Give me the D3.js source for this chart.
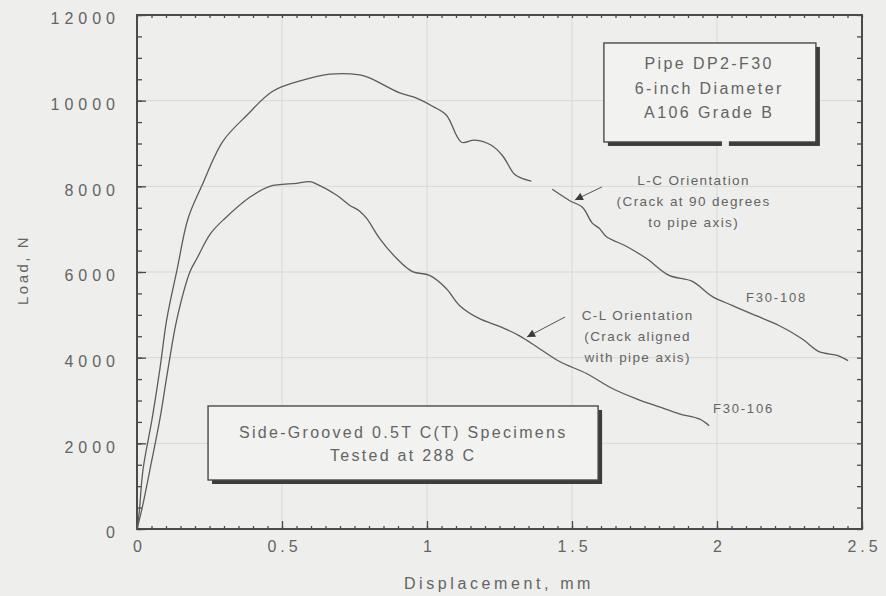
<!DOCTYPE html>
<html>
<head>
<meta charset="utf-8">
<script src="https://cdn.jsdelivr.net/npm/d3@7"></script>
<style>
  html, body { margin: 0; padding: 0; background: #eeeeec; }
  svg { display: block; font-family: "Liberation Sans", Arial, Helvetica, sans-serif; }
</style>
</head>
<body>
<svg id="chart" width="886" height="596"></svg>
<script>
// Axis ticks
const xTicks = [0, 0.5, 1, 1.5, 2, 2.5];
const xTickLabels = ["0", "0.5", "1", "1.5", "2", "2.5"];
const yTicks = [0, 2000, 4000, 6000, 8000, 10000, 12000];
const yTickLabels = ["0", "2000", "4000", "6000", "8000", "10000", "12000"];

// Specimen F30-108 (L-C orientation); null marks the break in the record
const disp108 = [0, 0.007, 0.021, 0.052, 0.079, 0.103, 0.138, 0.176, 0.224, 0.296, 0.379, 0.468, 0.572, 0.665, 0.768, 0.802, 0.906, 0.964, 1.019, 1.067, 1.119, 1.164, 1.222, 1.260, 1.302, 1.326, 1.360, null,
                 1.432, 1.491, 1.536, 1.570, 1.594, 1.618, 1.687, 1.756, 1.835, 1.915, 1.983, 2.052, 2.135, 2.214, 2.293, 2.352, 2.417, 2.452];
const load108 = [0, 350, 1400, 2570, 3740, 4910, 6050, 7250, 8020, 9050, 9660, 10220, 10480, 10620, 10600, 10530, 10180, 10060, 9870, 9660, 9030, 9080, 8960, 8720, 8280, 8190, 8120, null,
                 7930, 7670, 7510, 7140, 7020, 6830, 6600, 6320, 5920, 5780, 5430, 5220, 4980, 4750, 4440, 4140, 4050, 3930];

// Specimen F30-106 (C-L orientation)
const disp106 = [0, 0.017, 0.045, 0.079, 0.107, 0.138, 0.183, 0.207, 0.254, 0.303, 0.390, 0.458, 0.551, 0.596, 0.620, 0.689, 0.733, 0.768, 0.792, 0.837, 0.895, 0.950, 1.009, 1.067, 1.112, 1.181, 1.250, 1.319, 1.388, 1.457, 1.550, 1.639, 1.722, 1.801, 1.870, 1.939, 1.973];
const load106 = [0, 470, 1400, 2570, 3740, 4910, 6010, 6320, 6900, 7250, 7750, 8000, 8070, 8110, 8050, 7790, 7560, 7420, 7250, 6780, 6320, 6010, 5920, 5610, 5220, 4910, 4730, 4510, 4210, 3910, 3630, 3280, 3040, 2850, 2690, 2570, 2410];

const svg = d3.select("#chart");

const x = d3.scaleLinear().domain([0, 2.5]).range([137, 862]);
const y = d3.scaleLinear().domain([0, 12000]).range([529, 15]);

const axisColor = "#4a4a4a";
const textColor = "#646464";
const lineColor = "#5c5c5c";

// Grid lines
const grid = svg.append("g").attr("stroke", "#d8d8d6").attr("stroke-width", 1);
grid.selectAll("line.v").data(xTicks.slice(1, -1)).join("line")
  .attr("x1", d => x(d)).attr("x2", d => x(d))
  .attr("y1", y(12000)).attr("y2", y(0));
grid.selectAll("line.h").data(yTicks.slice(1, -1)).join("line")
  .attr("x1", x(0)).attr("x2", x(2.5))
  .attr("y1", d => y(d)).attr("y2", d => y(d));

// Minor ticks
const xMinor = d3.range(0, 2.5001, 0.05).map(v => +v.toFixed(2));
const yMinor = d3.range(0, 12001, 500);

function styleAxis(g) {
  g.select(".domain").remove();
  g.selectAll(".tick line").attr("stroke", axisColor).attr("stroke-width", 1.3);
}

svg.append("g").attr("transform", `translate(0,${y(0)})`)
  .call(d3.axisBottom(x).tickValues(xMinor).tickSizeInner(-3).tickSizeOuter(0).tickFormat(""))
  .call(styleAxis);
svg.append("g").attr("transform", `translate(0,${y(12000)})`)
  .call(d3.axisTop(x).tickValues(xMinor).tickSizeInner(-3).tickSizeOuter(0).tickFormat(""))
  .call(styleAxis);
svg.append("g").attr("transform", `translate(${x(0)},0)`)
  .call(d3.axisLeft(y).tickValues(yMinor).tickSizeInner(-5).tickSizeOuter(0).tickFormat(""))
  .call(styleAxis);
svg.append("g").attr("transform", `translate(${x(2.5)},0)`)
  .call(d3.axisRight(y).tickValues(yMinor).tickSizeInner(-5).tickSizeOuter(0).tickFormat(""))
  .call(styleAxis);

// Major ticks with labels
const xAxis = svg.append("g").attr("transform", `translate(0,${y(0)})`)
  .call(d3.axisBottom(x).tickValues(xTicks).tickSizeInner(-8).tickSizeOuter(0).tickPadding(12)
    .tickFormat((d, i) => xTickLabels[i]))
  .call(styleAxis);
xAxis.selectAll(".tick text")
  .attr("fill", textColor).attr("font-size", 16).attr("font-family", "Liberation Sans, Arial, sans-serif")
  .style("letter-spacing", "4px").attr("dx", 2);

const yAxis = svg.append("g").attr("transform", `translate(${x(0)},0)`)
  .call(d3.axisLeft(y).tickValues(yTicks).tickSizeInner(-9).tickSizeOuter(0).tickPadding(17)
    .tickFormat((d, i) => yTickLabels[i]))
  .call(styleAxis);
yAxis.selectAll(".tick text")
  .attr("fill", textColor).attr("font-size", 16).attr("font-family", "Liberation Sans, Arial, sans-serif")
  .style("letter-spacing", "5px").attr("dy", "0.55em");

// Plot frame
svg.append("rect")
  .attr("x", x(0)).attr("y", y(12000))
  .attr("width", x(2.5) - x(0)).attr("height", y(0) - y(12000))
  .attr("fill", "none").attr("stroke", axisColor).attr("stroke-width", 2);

// Axis titles
svg.append("text")
  .attr("x", 499).attr("y", 589)
  .attr("text-anchor", "middle").attr("fill", textColor)
  .attr("font-size", 16).style("letter-spacing", "3.6px")
  .text("Displacement,  mm");
svg.append("text")
  .attr("transform", "translate(28,270) rotate(-90)")
  .attr("text-anchor", "middle").attr("fill", textColor)
  .attr("font-size", 15).style("letter-spacing", "2.5px")
  .text("Load, N");

// Curves
const line = d3.line()
  .defined(d => d[0] !== null && d[1] !== null)
  .curve(d3.curveCatmullRom.alpha(0.5))
  .x(d => x(d[0])).y(d => y(d[1]));

svg.append("path")
  .datum(d3.zip(disp108, load108))
  .attr("d", line).attr("fill", "none")
  .attr("stroke", lineColor).attr("stroke-width", 1.3).attr("stroke-linejoin", "round");
svg.append("path")
  .datum(d3.zip(disp106, load106))
  .attr("d", line).attr("fill", "none")
  .attr("stroke", lineColor).attr("stroke-width", 1.3).attr("stroke-linejoin", "round");

// Framed note boxes with a drop shadow on the right and bottom
function noteBox(x0, x1, yTop, yBot, lines, cx, firstY, step, size, spacing) {
  const bx = x(x0), by = y(yTop), bw = x(x1) - x(x0), bh = y(yBot) - y(yTop);
  const g = svg.append("g");
  g.append("rect").attr("x", bx + 4).attr("y", by + 4).attr("width", bw).attr("height", bh)
    .attr("fill", "#3c3c3c");
  g.append("rect").attr("x", bx).attr("y", by).attr("width", bw).attr("height", bh)
    .attr("fill", "#f2f2f0").attr("stroke", "#4a4a4a").attr("stroke-width", 1.4);
  g.selectAll("text").data(lines).join("text")
    .attr("x", x(cx) + spacing / 2).attr("y", (d, i) => firstY + i * step)
    .attr("text-anchor", "middle").attr("fill", textColor)
    .attr("font-size", size).style("letter-spacing", spacing + "px")
    .text(d => d);
  return g;
}

const box1 = noteBox(1.61, 2.341, 11347, 9036,
  ["Pipe DP2-F30", "6-inch Diameter", "A106 Grade B"], 1.969, 69, 24.5, 16, 2.4);
// small break in the lower edge of the pipe box
box1.append("rect")
  .attr("x", x(2.017)).attr("y", y(9036) - 1).attr("width", x(2.041) - x(2.017)).attr("height", 7)
  .attr("fill", "#eeeeec");

noteBox(0.245, 1.590, 2872, 1144,
  ["Side-Grooved 0.5T C(T) Specimens", "Tested at 288 C"], 0.914, 438, 23, 16, 2.3);

// Arrowhead marker
svg.append("defs").append("marker")
  .attr("id", "arrow").attr("viewBox", "0 0 10 10")
  .attr("refX", 10).attr("refY", 5)
  .attr("markerWidth", 10).attr("markerHeight", 8)
  .attr("markerUnits", "userSpaceOnUse")
  .attr("orient", "auto")
  .append("path").attr("d", "M0,0 L10,5 L0,10 Z").attr("fill", "#3a3a3a");

function arrow(xFrom, yFrom, xTo, yTo) {
  svg.append("line")
    .attr("x1", x(xFrom)).attr("y1", y(yFrom))
    .attr("x2", x(xTo)).attr("y2", y(yTo))
    .attr("stroke", "#555").attr("stroke-width", 1)
    .attr("marker-end", "url(#arrow)");
}
arrow(1.603, 7985, 1.510, 7682);
arrow(1.476, 4950, 1.345, 4483);

// Orientation notes
function note(lines, cx, cyVal, step, size, spacing) {
  svg.append("g").selectAll("text").data(lines).join("text")
    .attr("x", x(cx) + spacing / 2)
    .attr("y", (d, i) => y(cyVal) + size * 0.36 + i * step)
    .attr("text-anchor", "middle").attr("fill", textColor)
    .attr("font-size", size).style("letter-spacing", spacing + "px")
    .text(d => d);
}
note(["L-C Orientation", "(Crack at 90 degrees", "to pipe axis)"], 1.917, 8149, 21, 13.5, 1.4);
note(["C-L Orientation", "(Crack aligned", "with pipe axis)"], 1.724, 4997, 21, 13.5, 1.4);

// Specimen labels
svg.append("text").attr("x", x(2.1)).attr("y", y(5417) + 5)
  .attr("fill", textColor).attr("font-size", 13).style("letter-spacing", "1.8px").text("F30-108");
svg.append("text").attr("x", x(1.986)).attr("y", y(2825) + 5)
  .attr("fill", textColor).attr("font-size", 13).style("letter-spacing", "1.8px").text("F30-106");
</script>
</body>
</html>
